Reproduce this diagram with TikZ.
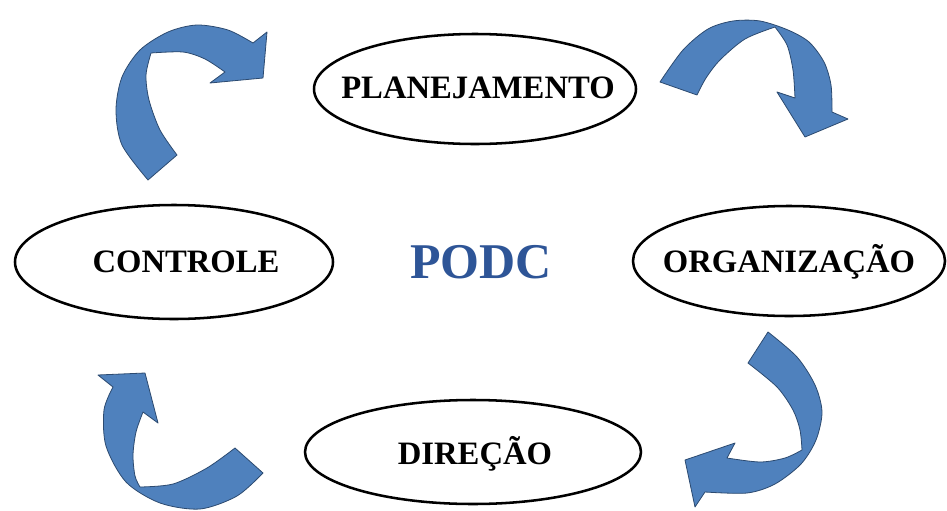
\documentclass[tikz,border=0pt]{standalone}
\usepackage{fontspec}
\setmainfont{Liberation Serif}
\usetikzlibrary{shapes.geometric}
\definecolor{arrowfill}{HTML}{4F81BD}
\definecolor{arrowline}{HTML}{2C4A70}
\definecolor{podcblue}{HTML}{2E5597}
\tikzset{
  oval/.style={ellipse, draw=black, line width=1.9pt, inner sep=0pt},
  lbl/.style={font=\bfseries\fontsize{24.5}{28}\selectfont, inner sep=0pt},
  curvarrow/.style={fill=arrowfill, draw=arrowline, line width=0.6pt, line join=round},
  sm/.style={smooth, tension=0.5}
}
\begin{document}
\begin{tikzpicture}[x=0.75pt, y=-0.75pt]
\useasboundingbox (0,0) rectangle (947,511);
\fill[white] (0,0) rectangle (947,511);

% ellipses
\node[oval, minimum width=322pt*0.75, minimum height=110pt*0.75] (plan) at (475,89) {};
\node[oval, minimum width=318pt*0.75, minimum height=114pt*0.75] (ctrl) at (174,262) {};
\node[oval, minimum width=312pt*0.75, minimum height=110pt*0.75] (org) at (789,261) {};
\node[oval, minimum width=336pt*0.75, minimum height=104pt*0.75] (dir) at (473,452) {};

% labels
\node[lbl] (plant) at (478,88) {PLANEJAMENTO};
\node[lbl] (ctrlt) at (186,262) {CONTROLE};
\node[lbl] (orgt) at (789,262) {ORGANIZAÇÃO};
\node[lbl] (dirt) at (475,454) {DIREÇÃO};
\node[font=\bfseries\fontsize{37.5}{42}\selectfont, text=podcblue, inner sep=0pt] (podc) at (481,262) {PODC};

% arrow top-left (controle -> planejamento)
\draw[curvarrow] (148,180) -- (177,155)
  -- plot[sm] coordinates {(177,155) (160,130) (149,100) (146,75) (151,53)}
  -- plot[sm] coordinates {(151,53) (183,52) (205,59) (225,72)}
  -- (210,83) -- (263,78) -- (267,32) -- (253,43)
  -- plot[sm] coordinates {(253,43) (228,30) (197,25) (168,32) (140,50) (122,77) (116,110) (122,145) (148,180)}
  -- cycle;

% arrow top-right (planejamento -> organizacao)
\draw[curvarrow] (660,82) -- (697,95)
  -- plot[sm] coordinates {(697,95) (706,78) (720,60) (745,39) (775,27)}
  -- plot[sm] coordinates {(775,27) (787,45) (793,70) (795,98)}
  -- (777,92) -- (805,137) -- (848,119) -- (832,112)
  -- plot[sm] coordinates {(832,112) (831,85) (824,62) (809,42) (788,30) (760,21) (733,21) (708,29) (683,50) (660,82)}
  -- cycle;

% arrow bottom-right (organizacao -> direcao)
\draw[curvarrow] (748,363) -- (768,332)
  -- plot[sm] coordinates {(768,332) (797,357) (815,385) (822,412) (816,440) (801,464) (775,484) (747,493) (705,492)}
  -- (695,507) -- (685,460) -- (735,443) -- (727,458)
  -- plot[sm] coordinates {(727,458) (760,462) (785,458) (802,450)}
  -- plot[sm] coordinates {(802,450) (800,430) (793,410) (777,387) (748,363)}
  -- cycle;

% arrow bottom-left (direcao -> controle)
\draw[curvarrow] (235,448) -- (263,473)
  -- plot[sm] coordinates {(263,473) (237,496) (200,509) (160,503) (126,482) (106,446) (104,410) (113,387)}
  -- (98,375) -- (145,373) -- (158,423) -- (143,412)
  -- plot[sm] coordinates {(143,412) (136,432) (133,455) (135,476) (140,487)}
  -- plot[sm] coordinates {(140,487) (173,484) (207,468) (235,448)}
  -- cycle;
\end{tikzpicture}
\end{document}
